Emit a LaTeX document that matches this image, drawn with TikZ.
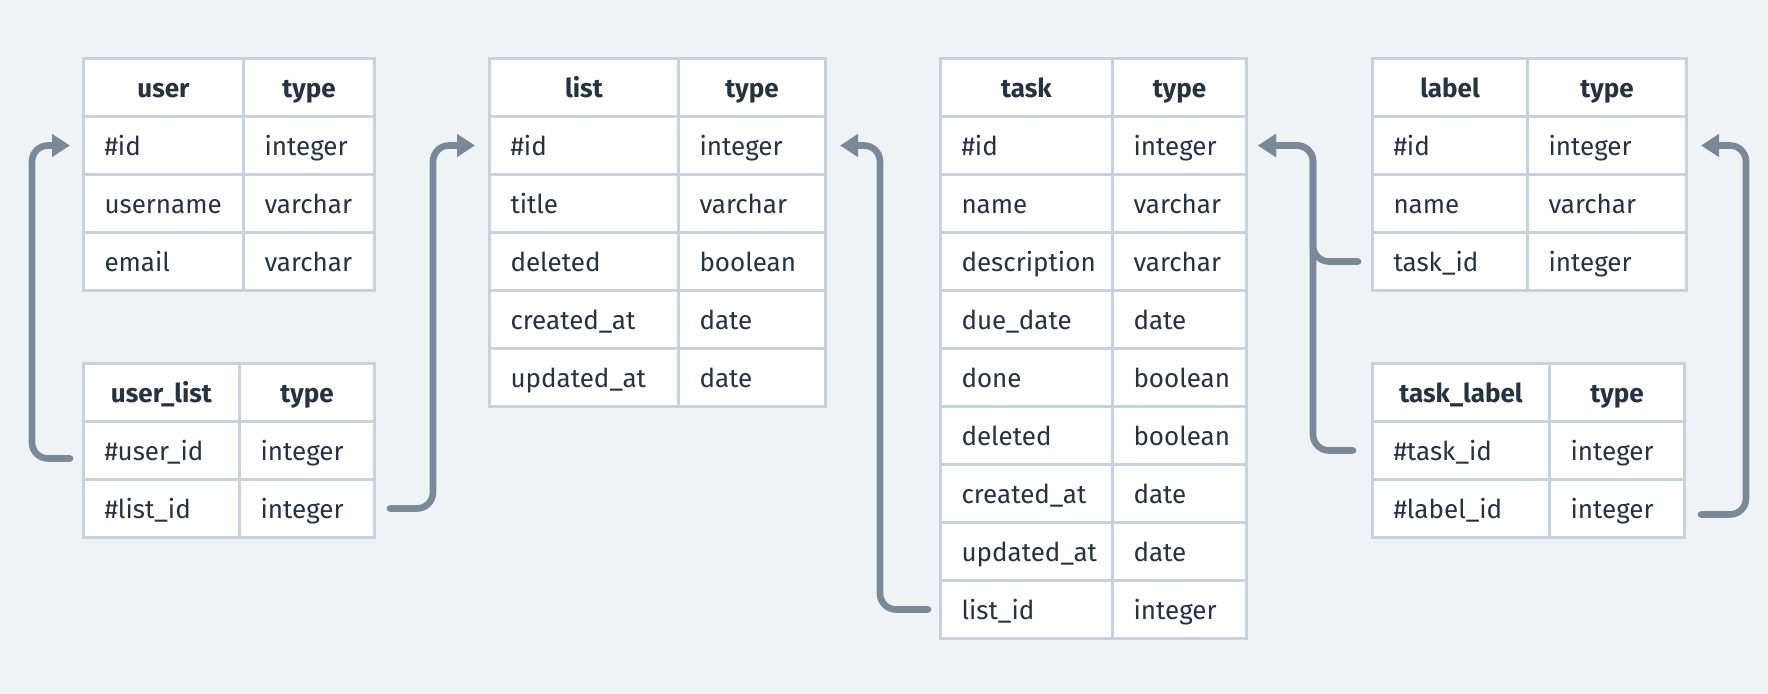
\documentclass[tikz,border=0pt]{standalone}
\usepackage{fontspec}
\setmainfont{Fira Sans}
\usetikzlibrary{arrows.meta,calc}
\definecolor{PageBg}{RGB}{239,243,246}
\definecolor{GridLine}{RGB}{198,210,221}
\definecolor{InkDark}{RGB}{36,50,66}
\definecolor{LinkGray}{RGB}{122,137,152}

\begin{document}
\begin{tikzpicture}[x=0.5pt, y=-0.5pt,
    cell/.style={draw=GridLine, line width=1.5pt, fill=white, text=InkDark,
      anchor=north west, minimum height=29pt, inner ysep=0pt, inner xsep=10.5pt,
      text height=13pt, text depth=3pt, align=left,
      font=\fontsize{13pt}{15pt}\selectfont},
    head/.style={cell, align=center, font=\fontsize{13pt}{15pt}\selectfont\bfseries},
    fk/.style={draw=LinkGray, line width=3.3pt, rounded corners=8pt, line cap=round,
      -{Triangle[length=9pt,width=11pt]}}]
  \fill[PageBg] (0,0) rectangle (1768,694);

  % user
  \node[head, text width=59pt] (user-0-a) at (82,57) {user};
  \node[head, text width=44.5pt] (user-0-b) at (242,57) {type};
  \foreach \a/\b [count=\i] in {\#id/integer, username/varchar, email/varchar} {
    \node[cell, text width=59pt] (user-\i-a) at (82,57+58*\i) {\a};
    \node[cell, text width=44.5pt] (user-\i-b) at (242,57+58*\i) {\b};
  }

  % user_list
  \node[head, text width=57pt] (userlist-0-a) at (82,362) {user\_list};
  \node[head, text width=46.5pt] (userlist-0-b) at (238,362) {type};
  \foreach \a/\b [count=\i] in {\#user\_id/integer, \#list\_id/integer} {
    \node[cell, text width=57pt] (userlist-\i-a) at (82,362+58*\i) {\a};
    \node[cell, text width=46.5pt] (userlist-\i-b) at (238,362+58*\i) {\b};
  }

  % list
  \node[head, text width=73.5pt] (list-0-a) at (488,57) {list};
  \node[head, text width=52.5pt] (list-0-b) at (677,57) {type};
  \foreach \a/\b [count=\i] in {\#id/integer, title/varchar, deleted/boolean,
      created\_at/date, updated\_at/date} {
    \node[cell, text width=73.5pt] (list-\i-a) at (488,57+58*\i) {\a};
    \node[cell, text width=52.5pt] (list-\i-b) at (677,57+58*\i) {\b};
  }

  % task
  \node[head, text width=65pt] (task-0-a) at (939,57) {task};
  \node[head, text width=46pt] (task-0-b) at (1111,57) {type};
  \foreach \a/\b [count=\i] in {\#id/integer, name/varchar, description/varchar,
      due\_date/date, done/boolean, deleted/boolean, created\_at/date,
      updated\_at/date, list\_id/integer} {
    \node[cell, text width=65pt] (task-\i-a) at (939,57+58*\i) {\a};
    \node[cell, text width=46pt] (task-\i-b) at (1111,57+58*\i) {\b};
  }

  % label
  \node[head, text width=56.5pt] (label-0-a) at (1371,57) {label};
  \node[head, text width=58.5pt] (label-0-b) at (1526,57) {type};
  \foreach \a/\b [count=\i] in {\#id/integer, name/varchar, task\_id/integer} {
    \node[cell, text width=56.5pt] (label-\i-a) at (1371,57+58*\i) {\a};
    \node[cell, text width=58.5pt] (label-\i-b) at (1526,57+58*\i) {\b};
  }

  % task_label
  \node[head, text width=67.5pt] (tasklabel-0-a) at (1371,362) {task\_label};
  \node[head, text width=46.5pt] (tasklabel-0-b) at (1548,362) {type};
  \foreach \a/\b [count=\i] in {\#task\_id/integer, \#label\_id/integer} {
    \node[cell, text width=67.5pt] (tasklabel-\i-a) at (1371,362+58*\i) {\a};
    \node[cell, text width=46.5pt] (tasklabel-\i-b) at (1548,362+58*\i) {\b};
  }

  % foreign keys
  \draw[fk] ([xshift=-6pt,yshift=-4pt]userlist-1-a.west) -- ++(-19pt,0)
    |- ([xshift=-6pt]user-1-a.west);
  \draw[fk] ([xshift=7pt]userlist-2-b.east) -- ++(21.5pt,0)
    |- ([xshift=-6.5pt]list-1-a.west);
  \draw[fk] ([xshift=-5.5pt]task-9-a.west) -- ++(-24pt,0)
    |- ([xshift=6.5pt]list-1-b.east);
  \draw[fk] ([xshift=-6.5pt]label-3-a.west) -- ++(-22.5pt,0)
    |- ([xshift=5pt]task-1-b.east);
  \draw[fk] ([xshift=-9pt]tasklabel-1-a.west) -- ++(-20pt,0)
    |- ([xshift=5pt]task-1-b.east);
  \draw[fk] ([xshift=7.5pt,yshift=-3pt]tasklabel-2-b.east) -- ++(22.5pt,0)
    |- ([xshift=6.5pt]label-1-b.east);
\end{tikzpicture}
\end{document}
